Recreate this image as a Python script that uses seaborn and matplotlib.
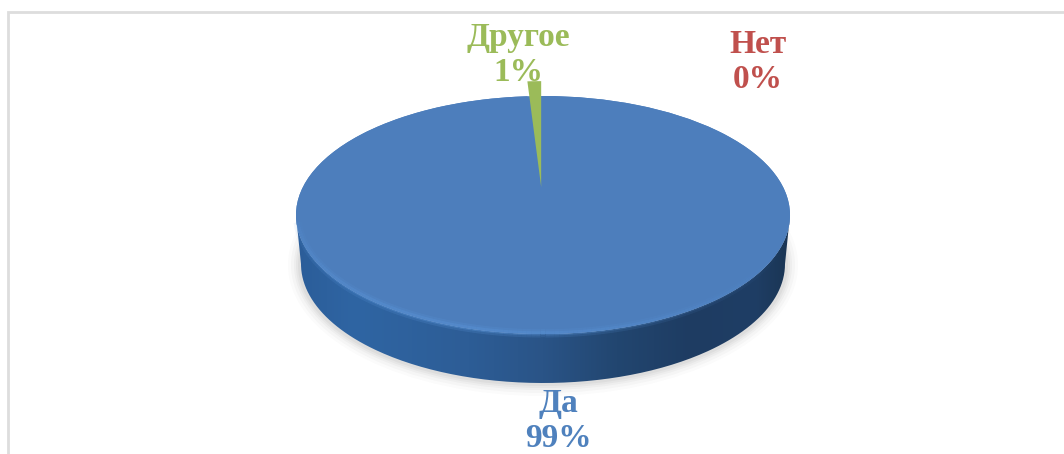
import numpy as np
import matplotlib.pyplot as plt
import seaborn as sns
from matplotlib.patches import Ellipse, PathPatch
from matplotlib.path import Path
from matplotlib.colors import LinearSegmentedColormap

labels = ['Да', 'Нет', 'Другое']
values = [99, 0, 1]
colors = ['#4d7ebc', '#c0504d', '#9bbb59']
text_colors = ['#4f81bd', '#c0504d', '#9bbb59']
label_pos = [(558, 421), (758, 62), (518, 55)]

W, H = 1064, 454
cx, cy = 543, 215      # centre of the top face, px
rx, ry = 247, 119
depth = 49

sns.set_theme(style='white')
plt.rcParams['font.family'] = ['Liberation Serif', 'DejaVu Serif']

fig = plt.figure(figsize=(W / 100, H / 100), dpi=100)
bg = fig.add_axes([0, 0, 1, 1])
bg.set_xlim(0, W)
bg.set_ylim(H, 0)
bg.axis('off')

# frame of the pasted picture
bg.plot([8, 8, W], [H, 12, 12], color='#dddddd', lw=2, solid_joinstyle='miter')

# soft shadow under the disc
for grow, a in zip([12, 9, 6, 4, 2], [0.025, 0.035, 0.045, 0.05, 0.06]):
    bg.add_patch(Ellipse((cx, cy + depth + 1), 2 * (rx - 4 + grow), 2 * (ry + grow),
                         color='#555555', alpha=a, lw=0))

# side of the disc, shaded from left to right, slightly narrower at the bottom
t = np.linspace(0, np.pi, 200)
xs = cx + rx * np.cos(t)
ys = cy + ry * np.sin(t)
xb = cx + (rx - 5) * np.cos(t)
side = np.vstack([np.c_[xb, ys + depth], np.c_[xs[::-1], ys[::-1]]])
clip = PathPatch(Path(np.vstack([side, side[:1]])), transform=bg.transData, fc='none', lw=0)
bg.add_patch(clip)
rim = LinearSegmentedColormap.from_list('rim', [(0, '#2b5d99'), (0.12, '#2f65a3'), (0.35, '#2d5d96'),
                                                (0.5, '#2a5487'), (0.65, '#224670'), (0.8, '#1e3c62'),
                                                (0.93, '#1f3e65'), (1, '#1a3554')])
im = bg.imshow(np.linspace(0, 1, 256)[None, :], cmap=rim, aspect='auto',
               extent=[cx - rx, cx + rx, cy + ry + depth, cy], zorder=2)
im.set_clip_path(clip)
bg.set_xlim(0, W)
bg.set_ylim(H, 0)

# top face from the values
ax = fig.add_axes([(cx - rx) / W, 1 - (cy + ry) / H, 2 * rx / W, 2 * ry / H])
ax.patch.set_alpha(0)
ax.add_patch(Ellipse((0, 0), 2, 2, color=colors[0], lw=0))  # closes the gap left by the pulled slice
wedges, _ = ax.pie(values, colors=sns.color_palette(colors), startangle=90, counterclock=False,
                   explode=[0, 0, 0.235], radius=1, wedgeprops={'linewidth': 0})
ax.set_aspect('auto')
ax.set_xlim(-1, 1)
ax.set_ylim(-1, 1)
for w in wedges:
    w.set_clip_on(False)
wedges[2].set_radius(0.89)
wedges[2].set_zorder(5)

# light bevel along the front edge of the face, fading towards the right
a = np.linspace(0.02, 0.98, 160) * np.pi
for i in range(len(a) - 1):
    # a runs from the right end (0) to the left end (pi)
    k = min(1, (i / (len(a) - 1)) * 1.7) * np.sin(a[i]) ** 0.5
    for lw, al in [(6, 0.22), (3, 0.4)]:
        ax.plot(np.cos(a[i:i + 2]) * 0.995, -np.sin(a[i:i + 2]) * 0.995, color='#5a94d8',
                lw=lw, alpha=float(al * k), solid_capstyle='butt', clip_on=False)

# data labels
for name, val, col, (x, y) in zip(labels, values, text_colors, label_pos):
    bg.text(x, y, f'{name}\n{val}%', color=col, fontsize=24, fontweight='bold',
            ha='center', va='center', linespacing=1.2)

fig.savefig('out.png', dpi=100)
